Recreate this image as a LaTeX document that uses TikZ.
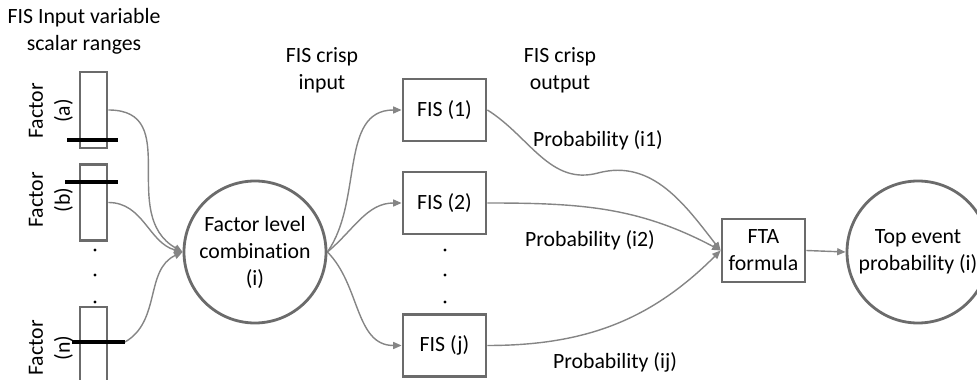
\documentclass[tikz,border=0pt]{standalone}
\usepackage{fontspec}
\setmainfont[Ligatures=NoCommon]{Carlito}
\usepackage{tikz}
\usetikzlibrary{arrows.meta}
\pgfdeclarelayer{bg}
\pgfsetlayers{bg,main}
\definecolor{rim}{gray}{0.42}
\definecolor{wirec}{gray}{0.52}
\tikzset{
  bar/.style={draw=rim, line width=2pt, minimum width=0.675cm, minimum height=1.9cm, inner sep=0pt},
  fisbox/.style={draw=rim, line width=2pt, minimum width=2.075cm, minimum height=1.55cm, align=center, inner sep=0pt},
  round/.style={circle, draw=rim, line width=2pt, minimum size=3.55cm, align=center, inner sep=0pt},
  wire/.style={draw=wirec, line width=1pt, -{Triangle[length=6pt,width=5pt]}},
  cut/.style={line width=2.2pt, black},
}

\begin{document}
\begin{tikzpicture}[every node/.style={font=\fontsize{15.5}{19.2}\selectfont}]
        \useasboundingbox (0,0) rectangle (24.425000cm, 9.500000cm);
        \node (title) [align=center] at (2.100000cm, 8.725000cm) {FIS Input variable\\scalar ranges};
        \node (ra) [bar] at (2.337500cm, 6.750000cm) {};
        \node (rb) [bar] at (2.337500cm, 4.437500cm) {};
        \node (rn) [bar, minimum height=2.4cm] at (2.337500cm, 0.625000cm) {};
        \node (la) [rotate=90, align=center] at (1.275000cm, 6.725000cm) {Factor\\(a)};
        \node (lb) [rotate=90, align=center] at (1.275000cm, 4.500000cm) {Factor\\(b)};
        \node (ln) [rotate=90, align=center] at (1.275000cm, 0.800000cm) {Factor\\(n)};
        \draw[cut] (1.675000cm, 6.000000cm) -- (2.950000cm, 6.000000cm);
        \draw[cut] (1.625000cm, 4.950000cm) -- (2.950000cm, 4.950000cm);
        \draw[cut] (1.800000cm, 0.950000cm) -- (3.125000cm, 0.950000cm);
        \coordinate (tn) at (3.125000cm, 0.950000cm);
        \node (comb) [round] at (6.375000cm, 3.200000cm) {Factor level\\combination\\(i)};
        \node (cin) [align=center] at (8.050000cm, 7.750000cm) {FIS crisp\\input};
        \node (cout) [align=center] at (14.000000cm, 7.750000cm) {FIS crisp\\output};
        \node (f1) [fisbox] at (11.112500cm, 6.750000cm) {FIS (1)};
        \node (f2) [fisbox] at (11.112500cm, 4.425000cm) {FIS (2)};
        \node (fj) [fisbox] at (11.112500cm, 0.862500cm) {FIS (j)};
        \node (fta) [fisbox, minimum height=1.575cm] at (19.087500cm, 3.237500cm) {FTA\\formula};
        \node (top) [round] at (22.950000cm, 3.200000cm) {Top event\\probability (i)};
        \node (p1) at (14.950000cm, 6.000000cm) {Probability (i1)};
        \node (p2) at (14.750000cm, 3.500000cm) {Probability (i2)};
        \node (pj) at (15.375000cm, 0.450000cm) {Probability (ij)};
        \coordinate (dip) at (14.950000cm, 5.175000cm);
        \foreach \dx in {2.375000, 11.125000}
          \foreach \dy in {3.250000, 2.625000, 1.950000}
            \fill (\dx cm, \dy cm) circle (1.1pt);
        \begin{pgfonlayer}{bg}
                \draw (ra.east) edge [wire, out=0, in=150, looseness=1.2] (comb.west);
                \draw (rb.east) edge [wire, out=0, in=165] (comb.west);
                \draw (tn) edge [wire, out=30, in=205] (comb.west);
                \draw (comb.east) edge [wire, out=55, in=180] (f1.west);
                \draw (comb.east) edge [wire, out=40, in=180] (f2.west);
                \draw (comb.east) edge [wire, out=-45, in=180] (fj.west);
                \draw[wire] (f1.east) to[out=-32, in=195] (dip) to[out=15, in=128] (fta.west);
                \draw (f2.east) edge [wire, out=0, in=152] (fta.west);
                \draw (fj.east) edge [wire, out=0, in=225] (fta.west);
                \draw (fta.east) edge [wire] (top.west);
        \end{pgfonlayer}
\end{tikzpicture}
\end{document}
